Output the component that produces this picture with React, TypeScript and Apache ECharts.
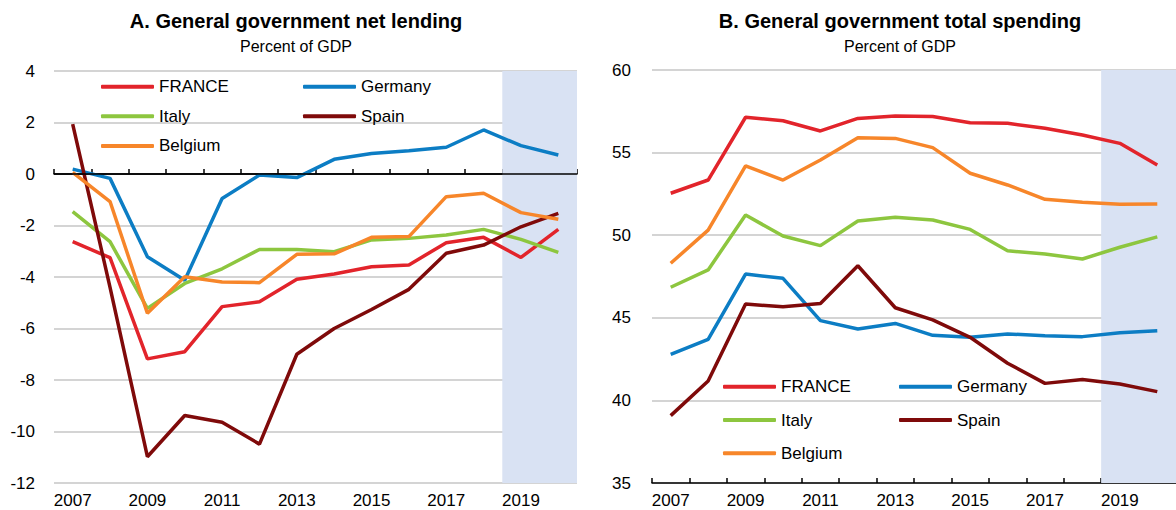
import React, { useEffect, useRef } from "react";
import * as echarts from "echarts";

const years = ["2007","2008","2009","2010","2011","2012","2013","2014","2015","2016","2017","2018","2019","2020"];
const projectionYears = ["2019", "2020"];

// Panel A: net lending, % of GDP
const lendFrance = [-2.63, -3.25, -7.18, -6.9, -5.15, -4.96, -4.09, -3.88, -3.6, -3.53, -2.67, -2.46, -3.24, -2.15];
const lendGermany = [0.19, -0.17, -3.21, -4.13, -0.95, -0.04, -0.14, 0.57, 0.8, 0.9, 1.04, 1.71, 1.1, 0.74];
const lendItaly = [-1.46, -2.63, -5.22, -4.25, -3.68, -2.93, -2.93, -3.02, -2.56, -2.5, -2.37, -2.15, -2.54, -3.04];
const lendSpain = [1.94, -4.4, -10.98, -9.38, -9.64, -10.49, -7.0, -6.0, -5.26, -4.48, -3.08, -2.76, -2.05, -1.53];
const lendBelgium = [0.06, -1.07, -5.41, -3.99, -4.19, -4.22, -3.12, -3.1, -2.46, -2.43, -0.88, -0.75, -1.5, -1.76];

// Panel B: total spending, % of GDP
const spendFrance = [52.54, 53.34, 57.14, 56.93, 56.31, 57.07, 57.22, 57.18, 56.81, 56.77, 56.47, 56.07, 55.56, 54.25];
const spendGermany = [42.79, 43.7, 47.65, 47.39, 44.83, 44.32, 44.66, 43.94, 43.82, 44.02, 43.92, 43.86, 44.1, 44.22];
const spendItaly = [46.85, 47.9, 51.22, 49.95, 49.37, 50.86, 51.08, 50.92, 50.35, 49.06, 48.86, 48.56, 49.27, 49.9];
const spendSpain = [39.08, 41.17, 45.83, 45.67, 45.87, 48.15, 45.61, 44.87, 43.82, 42.25, 41.03, 41.27, 40.99, 40.53];
const spendBelgium = [48.3, 50.31, 54.19, 53.34, 54.55, 55.9, 55.86, 55.3, 53.75, 53.04, 52.17, 51.99, 51.87, 51.89];

const lendTicks = { min: -12, max: 4, interval: 2 };
const spendTicks = { min: 35, max: 60, interval: 5 };

const names = ["FRANCE", "Germany", "Italy", "Spain", "Belgium"];
const colors: Record<string, string> = {
  FRANCE: "#E2242B",
  Germany: "#0C7DC4",
  Italy: "#8DC63F",
  Spain: "#7F0A0A",
  Belgium: "#F7862A",
};

const FONT = "'Liberation Sans', Arial, Helvetica, sans-serif";
const BAND = "#D9E2F3";
const GRID = "#C6C6C6";

export default function App() {
  const ref = useRef<HTMLDivElement>(null);
  useEffect(() => {
    document.body.style.margin = "0";
    if (!ref.current) return;
    const chart = echarts.init(ref.current, undefined, { renderer: "svg" });

    const lendData: Record<string, number[]> = {
      FRANCE: lendFrance, Germany: lendGermany, Italy: lendItaly, Spain: lendSpain, Belgium: lendBelgium,
    };
    const spendData: Record<string, number[]> = {
      FRANCE: spendFrance, Germany: spendGermany, Italy: spendItaly, Spain: spendSpain, Belgium: spendBelgium,
    };

    const xAxisBase = {
      type: "category" as const,
      data: years,
      boundaryGap: true,
      axisLine: { show: true, lineStyle: { color: "#000", width: 1.5 } },
      axisTick: { show: true, inside: true, length: 5, interval: 0, lineStyle: { color: "#000", width: 1.5 } },
      axisLabel: { interval: 1, fontSize: 17, color: "#000", fontFamily: FONT, margin: 9 },
      splitLine: { show: false },
    };
    const yAxisBase = {
      type: "value" as const,
      axisLine: { show: false },
      axisTick: { show: false },
      splitLine: { show: true, lineStyle: { color: GRID, width: 1.5 } },
      axisLabel: { fontSize: 17, color: "#000", fontFamily: FONT },
    };

    const lineSeries = (idx: number, data: Record<string, number[]>) =>
      names.map((n) => ({
        type: "line",
        name: n,
        xAxisIndex: idx,
        yAxisIndex: idx,
        data: data[n],
        symbol: "none",
        z: 3,
        lineStyle: { width: 3.5, color: colors[n] },
        itemStyle: { color: colors[n] },
        ...(idx === 0 && n === "FRANCE"
          ? {
              markLine: {
                silent: true,
                symbol: ["none", "none"],
                label: { show: false },
                lineStyle: { color: "#000", width: 1.5, type: "solid" },
                data: [{ yAxis: 0 }],
              },
            }
          : {}),
      }));

    const legendBase = {
      orient: "vertical" as const,
      icon: "roundRect",
      itemWidth: 53,
      itemHeight: 4,
      padding: 0,
      selectedMode: false,
      textStyle: { fontSize: 17, color: "#000", fontFamily: FONT, lineHeight: 22 },
    };

    // projection band: one rectangle spanning the projection years, placed through the axes
    const bandSeries = (idx: number, ticks: { min: number; max: number }) => ({
      type: "custom",
      xAxisIndex: idx,
      yAxisIndex: idx,
      silent: true,
      z: 1,
      clip: false,
      data: [[years.indexOf(projectionYears[0]), years.indexOf(projectionYears[projectionYears.length - 1]), ticks.max, ticks.min]],
      encode: { x: [0, 1], y: [2, 3] },
      renderItem: (_params: any, api: any) => {
        const p0 = api.coord([api.value(0), api.value(2)]);
        const p1 = api.coord([api.value(1), api.value(3)]);
        const w = api.size([1, 0])[0];
        return {
          type: "rect",
          shape: { x: p0[0] - w / 2, y: p0[1], width: p1[0] - p0[0] + w, height: p1[1] - p0[1] },
          style: { fill: BAND },
        };
      },
    });

    chart.setOption({
      animation: false,
      backgroundColor: "#fff",
      grid: [
        { left: 54, top: 71, width: 523, height: 412 },
        { left: 652, top: 70, width: 529, height: 413 },
      ],
      xAxis: [
        { ...xAxisBase, gridIndex: 0 },
        { ...xAxisBase, gridIndex: 1 },
      ],
      yAxis: [
        { ...yAxisBase, gridIndex: 0, ...lendTicks, axisLabel: { ...yAxisBase.axisLabel, margin: 19 } },
        { ...yAxisBase, gridIndex: 1, ...spendTicks, axisLabel: { ...yAxisBase.axisLabel, margin: 21 } },
      ],
      legend: [
        { ...legendBase, data: ["FRANCE", "Italy", "Belgium"], left: 101, top: 75.7, itemGap: 7.6 },
        { ...legendBase, data: ["Germany", "Spain"], left: 303, top: 75.7, itemGap: 7.6 },
        { ...legendBase, data: ["FRANCE", "Italy", "Belgium"], left: 723, top: 375.7, itemGap: 11.3 },
        { ...legendBase, data: ["Germany", "Spain"], left: 899, top: 375.7, itemGap: 11.3 },
      ],
      graphic: [
        { type: "text", x: 296, y: 20.5, style: { text: "A. General government net lending", font: `bold 20px ${FONT}`, fill: "#000", textAlign: "center", textVerticalAlign: "middle" } },
        { type: "text", x: 296, y: 46, style: { text: "Percent of GDP", font: `16px ${FONT}`, fill: "#000", textAlign: "center", textVerticalAlign: "middle" } },
        { type: "text", x: 900, y: 20.5, style: { text: "B. General government total spending", font: `bold 20px ${FONT}`, fill: "#000", textAlign: "center", textVerticalAlign: "middle" } },
        { type: "text", x: 900, y: 46, style: { text: "Percent of GDP", font: `16px ${FONT}`, fill: "#000", textAlign: "center", textVerticalAlign: "middle" } },
      ],
      series: [
        bandSeries(0, lendTicks),
        bandSeries(1, spendTicks),
        ...lineSeries(0, lendData),
        ...lineSeries(1, spendData),
      ],
    });
    return () => chart.dispose();
  }, []);
  return <div ref={ref} style={{ width: 1176, height: 510 }} />;
}
